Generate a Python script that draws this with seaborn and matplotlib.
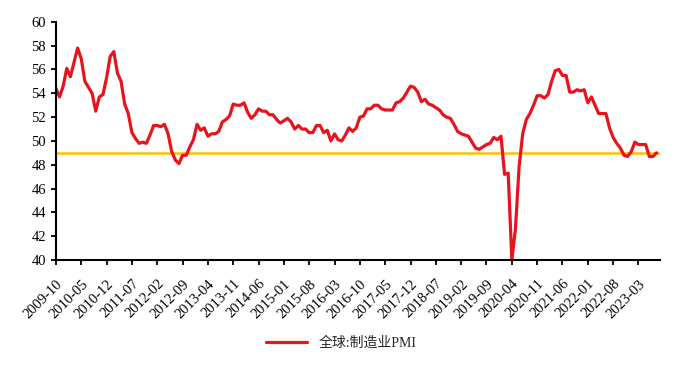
import pandas as pd
import matplotlib.pyplot as plt
import seaborn as sns

# === DATA ===
START_MONTH = "2009-10"
PMI = [
    54.4, 53.7, 54.6, 56.1, 55.4, 56.6, 57.8, 56.9, 55.0, 54.5,
    54.0, 52.5, 53.7, 53.9, 55.3, 57.1, 57.5, 55.7, 55.0, 53.1,
    52.3, 50.7, 50.2, 49.8, 49.9, 49.8, 50.5, 51.3, 51.3, 51.2,
    51.4, 50.6, 49.1, 48.4, 48.1, 48.8, 48.8, 49.5, 50.1, 51.4,
    50.9, 51.1, 50.4, 50.6, 50.6, 50.8, 51.6, 51.8, 52.1, 53.1,
    53.0, 53.0, 53.2, 52.4, 51.9, 52.2, 52.7, 52.5, 52.5, 52.2,
    52.2, 51.8, 51.5, 51.7, 51.9, 51.6, 51.0, 51.3, 51.0, 51.0,
    50.7, 50.7, 51.3, 51.3, 50.7, 50.9, 50.0, 50.6, 50.1, 50.0,
    50.5, 51.1, 50.8, 51.1, 52.0, 52.1, 52.7, 52.7, 53.0, 53.0,
    52.7, 52.6, 52.6, 52.6, 53.2, 53.3, 53.6, 54.1, 54.6, 54.5,
    54.1, 53.3, 53.5, 53.1, 53.0, 52.8, 52.6, 52.2, 52.0, 51.9,
    51.4, 50.8, 50.6, 50.5, 50.4, 49.9, 49.4, 49.3, 49.5, 49.7,
    49.8, 50.3, 50.1, 50.4, 47.2, 47.3, 40.0, 42.6, 47.8, 50.6,
    51.8, 52.3, 53.0, 53.8, 53.8, 53.6, 53.9, 55.0, 55.9, 56.0,
    55.5, 55.5, 54.1, 54.1, 54.3, 54.2, 54.3, 53.2, 53.7, 53.0,
    52.3, 52.3, 52.3, 51.1, 50.3, 49.8, 49.4, 48.8, 48.7, 49.1,
    49.9, 49.7, 49.7, 49.7, 48.7, 48.7, 49.0,
]
THRESHOLD = 49
SERIES_NAME = "全球:制造业PMI"
TICK_STEP = 7

months = pd.date_range(START_MONTH, periods=len(PMI), freq="MS").strftime("%Y-%m")
df = pd.DataFrame({"pos": range(len(PMI)), "month": months, "pmi": PMI})

# === STYLE ===
sns.set_style("ticks")
plt.rcParams["font.family"] = ["Liberation Serif", "Noto Sans CJK SC"]

fig = plt.figure(figsize=(6.82, 3.70), dpi=100)
ax = fig.add_axes([0.082, 0.297, 0.886, 0.644])

sns.lineplot(data=df, x="pos", y="pmi", ax=ax, color="#E8141C",
             linewidth=2.3, label=SERIES_NAME)
ax.axhline(THRESHOLD, color="#FFC000", linewidth=1.8, zorder=1)

ax.set_ylim(40, 60)
ax.set_yticks(range(40, 61, 2))
ax.set_xlim(0, len(PMI))
ax.set_xticks(df["pos"][::TICK_STEP])
ax.set_xticklabels(df["month"][::TICK_STEP], rotation=45, ha="right",
                   rotation_mode="anchor")
ax.set_xlabel("")
ax.set_ylabel("")
ax.tick_params(axis="both", labelsize=10.5, colors="black", width=1.3,
               length=3.8, direction="out")
ax.tick_params(axis="x", pad=8.5)
sns.despine(ax=ax)
for side in ["left", "bottom"]:
    ax.spines[side].set_linewidth(1.5)
    ax.spines[side].set_color("black")

ax.legend(loc="center", bbox_to_anchor=(0.5, 0.073), bbox_transform=fig.transFigure,
          frameon=False, fontsize=10, handlelength=3)

plt.savefig("out.png", dpi=100)
